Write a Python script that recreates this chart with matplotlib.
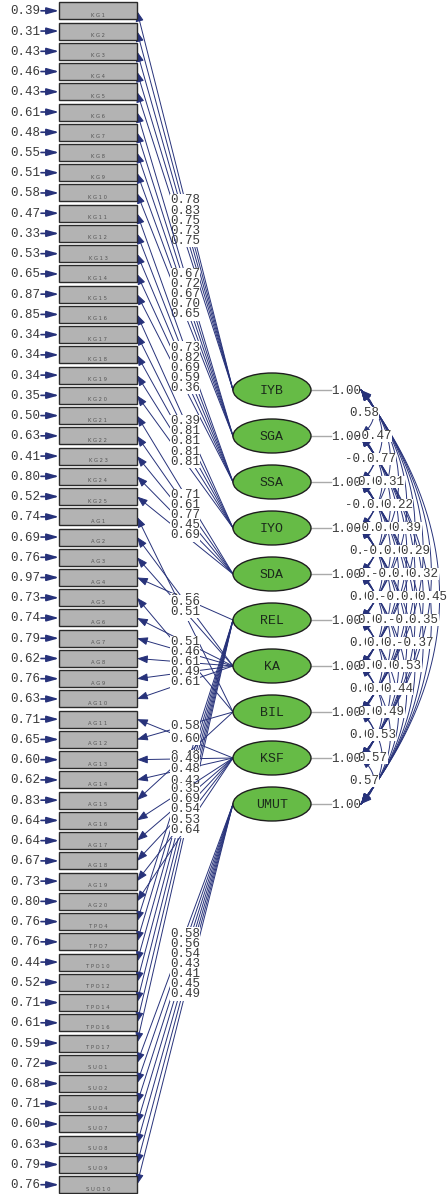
import numpy as np
import matplotlib.pyplot as plt
from matplotlib.patches import Rectangle, Ellipse, FancyArrowPatch

# ---------------------------------------------------------------
# Data
# ---------------------------------------------------------------
ITEMS = (['KG%d' % i for i in range(1, 26)] +
         ['AG%d' % i for i in range(1, 21)] +
         ['TPO4', 'TPO7', 'TPO10', 'TPO12', 'TPO14', 'TPO16', 'TPO17'] +
         ['SUO1', 'SUO2', 'SUO4', 'SUO7', 'SUO8', 'SUO9', 'SUO10'])

ERRORS = [0.39, 0.31, 0.43, 0.46, 0.43, 0.61, 0.48, 0.55, 0.51, 0.58,
          0.47, 0.33, 0.53, 0.65, 0.87, 0.85, 0.34, 0.34, 0.34, 0.35,
          0.50, 0.63, 0.41, 0.80, 0.52,
          0.74, 0.69, 0.76, 0.97, 0.73, 0.74, 0.79, 0.62, 0.76, 0.63,
          0.71, 0.65, 0.60, 0.62, 0.83, 0.64, 0.64, 0.67, 0.73, 0.80,
          0.76, 0.76, 0.44, 0.52, 0.71, 0.61, 0.59,
          0.72, 0.68, 0.71, 0.60, 0.63, 0.79, 0.76]

LATENTS = ['IYB', 'SGA', 'SSA', 'IYO', 'SDA', 'REL', 'KA', 'BIL', 'KSF', 'UMUT']

# loadings: latent -> list of (item, value)
LOADINGS = {
    'IYB': [('KG1', 0.78), ('KG2', 0.83), ('KG3', 0.75), ('KG4', 0.73), ('KG5', 0.75)],
    'SGA': [('KG6', 0.67), ('KG7', 0.72), ('KG8', 0.67), ('KG9', 0.70), ('KG10', 0.65)],
    'SSA': [('KG11', 0.73), ('KG12', 0.82), ('KG13', 0.69), ('KG14', 0.59), ('KG15', 0.36)],
    'IYO': [('KG16', 0.39), ('KG17', 0.81), ('KG18', 0.81), ('KG19', 0.81), ('KG20', 0.81)],
    'SDA': [('KG21', 0.71), ('KG22', 0.61), ('KG23', 0.77), ('KG24', 0.45), ('KG25', 0.69)],
    'REL': [('AG4', 0.56),
            ('TPO4', 0.48), ('TPO7', 0.43), ('TPO10', 0.35), ('TPO12', 0.69),
            ('TPO14', 0.54), ('TPO16', 0.53), ('TPO17', 0.64)],
    'KA':  [('AG2', 0.56), ('AG3', 0.51), ('AG6', 0.51), ('AG7', 0.46), ('AG8', 0.61),
            ('AG9', 0.49), ('AG10', 0.61)],
    'BIL': [('AG1', 0.51), ('AG5', 0.52), ('AG12', 0.58), ('AG15', 0.49)],
    'KSF': [('AG11', 0.60), ('AG13', 0.49), ('AG14', 0.48), ('AG16', 0.35),
            ('AG17', 0.69), ('AG18', 0.54), ('AG19', 0.53), ('AG20', 0.64)],
    'UMUT': [('SUO1', 0.58), ('SUO2', 0.56), ('SUO4', 0.54), ('SUO7', 0.43),
             ('SUO8', 0.41), ('SUO9', 0.45), ('SUO10', 0.49)],
}
# order in which the loading groups are drawn (later ones sit on top)
DRAW_ORDER = ['IYB', 'SGA', 'SSA', 'IYO', 'SDA', 'REL', 'BIL', 'KA', 'KSF', 'UMUT']

# correlations between latents (i, j, value)
CORRS = [
    (0, 1, '0.58'), (0, 2, '-0.47'), (1, 2, '-0.07'), (0, 3, '0.77'),
    (1, 3, '0.01'), (0, 4, '0.31'), (2, 3, '-0.02'), (1, 4, '0.02'), (0, 5, '0.22'),
    (2, 4, '-0.03'), (1, 5, '0.05'), (0, 6, '0.39'),
    (3, 4, '0.04'), (2, 5, '-0.06'), (1, 6, '0.03'), (0, 7, '0.29'),
    (3, 5, '0.01'), (2, 6, '-0.04'), (1, 7, '0.02'), (0, 8, '0.32'),
    (4, 5, '0.02'), (3, 6, '0.03'), (2, 7, '-0.05'), (1, 8, '0.01'), (0, 9, '0.45'),
    (4, 6, '0.04'), (3, 7, '0.02'), (2, 8, '-0.01'), (1, 9, '0.35'),
    (5, 6, '0.01'), (4, 7, '0.06'), (3, 8, '0.04'), (2, 9, '-0.37'),
    (5, 7, '0.03'), (4, 8, '0.05'), (3, 9, '0.53'),
    (6, 7, '0.02'), (5, 8, '0.03'), (4, 9, '0.44'),
    (6, 8, '0.04'), (5, 9, '0.49'),
    (7, 8, '0.03'), (6, 9, '0.53'),
    (7, 9, '0.57'),
    (8, 9, '0.57'),
]

# ---------------------------------------------------------------
# Layout / style
# ---------------------------------------------------------------
W, H = 447, 1194
ROW0, ROWSTEP = 10.8, 20.24
BOX_L, BOX_R, BOX_H = 59, 137, 17
LAT_X, LAT_W, LAT_H = 272, 78, 34
LAT_Y0, LAT_STEP = 390, 46
ARC_X0 = 361

NAVY = '#27327a'
TXT = '#3a3a3a'
MONO = ['Liberation Mono', 'DejaVu Sans Mono']

item_y = {name: ROW0 + ROWSTEP * k for k, name in enumerate(ITEMS)}
lat_y = {name: LAT_Y0 + LAT_STEP * i for i, name in enumerate(LATENTS)}


def spaced(name):
    return ' '.join(name)


def head(ax, p_from, p_to, lw=0.7):
    ax.add_patch(FancyArrowPatch(p_from, p_to,
                                 arrowstyle='-|>,head_length=0.8,head_width=0.3',
                                 mutation_scale=8, color=NAVY, lw=lw,
                                 shrinkA=0, shrinkB=0, zorder=2))


def main():
    fig = plt.figure(figsize=(W / 100, H / 100), dpi=100)
    ax = fig.add_axes([0, 0, 1, 1])
    ax.set_xlim(0, W)
    ax.set_ylim(H, 0)
    ax.axis('off')

    # ---- observed variables + error terms ----
    for name, err in zip(ITEMS, ERRORS):
        y = item_y[name]
        ax.add_patch(Rectangle((BOX_L, y - BOX_H / 2), BOX_R - BOX_L, BOX_H,
                               fc='#b3b3b3', ec='#2a2a2a', lw=1.0, zorder=3))
        ax.text((BOX_L + BOX_R) / 2, y + 4.5, spaced(name), fontsize=3.8,
                color='#555555', ha='center', va='center', zorder=4)
        ax.add_patch(FancyArrowPatch((41, y), (BOX_L, y),
                                     arrowstyle='-|>,head_length=0.9,head_width=0.25',
                                     mutation_scale=8, color=NAVY, lw=1.2,
                                     shrinkA=0, shrinkB=0, zorder=3))
        ax.text(40, y + 0.5, '%.2f' % err, fontsize=9, family=MONO,
                color=TXT, ha='right', va='center', zorder=4)

    # ---- loadings (lines of a latent, then its labels) ----
    xl = LAT_X - LAT_W / 2
    for lat in DRAW_ORDER:
        yl = lat_y[lat]
        for item, val in LOADINGS[lat]:
            head(ax, (xl, yl), (BOX_R, item_y[item]))
        for item, val in LOADINGS[lat]:
            yi = item_y[item]
            ax.text((xl + BOX_R) / 2, (yl + yi) / 2, '%.2f' % val, fontsize=9,
                    family=MONO, color=TXT, ha='center', va='center', zorder=2,
                    bbox=dict(boxstyle='square,pad=0.02', fc='white', ec='none'))

    # ---- latent variables ----
    for lat in LATENTS:
        y = lat_y[lat]
        ax.add_patch(Ellipse((LAT_X, y), LAT_W, LAT_H, fc='#66bb46',
                             ec='#1e1e1e', lw=1.0, zorder=5))
        ax.text(LAT_X, y + 0.5, lat, fontsize=9.5, family=MONO,
                color='#1b2a1b', ha='center', va='center', zorder=6)
        ax.plot([LAT_X + LAT_W / 2, 331], [y, y], color='#aaaaaa', lw=1.0, zorder=4)
        ax.text(331, y + 0.5, '1.00', fontsize=9, family=MONO, color=TXT,
                ha='left', va='center', zorder=4)

    # ---- correlation arcs (quadratic curves, heads at both ends) ----
    t = np.linspace(0, 1, 60)
    for i, j, lab in CORRS:
        s = j - i
        yi, yj = lat_y[LATENTS[i]], lat_y[LATENTS[j]]
        apex = 374 + 8.2 * (s - 1)
        cx, cy = ARC_X0 + 2 * (apex - ARC_X0), (yi + yj) / 2
        xs = (1 - t) ** 2 * ARC_X0 + 2 * (1 - t) * t * cx + t ** 2 * ARC_X0
        ys = (1 - t) ** 2 * yi + 2 * (1 - t) * t * cy + t ** 2 * yj
        ax.plot(xs, ys, color=NAVY, lw=0.7, zorder=2)
        head(ax, (xs[4], ys[4]), (xs[0], ys[0]))
        head(ax, (xs[-5], ys[-5]), (xs[-1], ys[-1]))
        ax.text(364 + 8.5 * (s - 1), cy, lab, fontsize=9,
                family=MONO, color=TXT, ha='center', va='center', zorder=3,
                bbox=dict(boxstyle='square,pad=0.02', fc='white', ec='none'))

    fig.savefig('out.png', dpi=100)


if __name__ == '__main__':
    main()
